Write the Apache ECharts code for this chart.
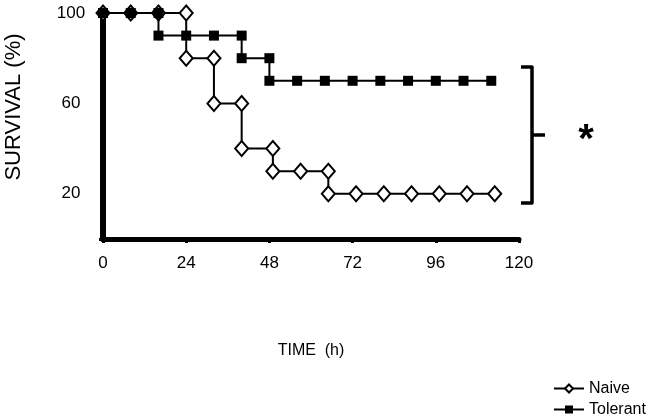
<!DOCTYPE html>
<html>
<head>
<meta charset="utf-8">
<script src="https://cdn.jsdelivr.net/npm/echarts@6/dist/echarts.min.js"></script>
<style>
  html, body { margin: 0; padding: 0; background: #fff; }
  #chart { width: 650px; height: 420px; }
</style>
</head>
<body>
<div id="chart"></div>
<script>
// survival curves, [time (h), survival (%)] - vertical steps are repeated x values
const naiveData = [
  [0, 100], [8, 100], [16, 100], [24, 100], [24, 80], [32, 80], [32, 60],
  [40, 60], [40, 40], [49, 40], [49, 30], [57, 30], [65, 30], [65, 20],
  [73, 20], [81, 20], [89, 20], [97, 20], [105, 20], [113, 20]
]
const tolerantData = [
  [0, 100], [8, 100], [16, 100], [16, 90], [24, 90], [32, 90], [40, 90],
  [40, 80], [48, 80], [48, 70], [56, 70], [64, 70], [72, 70], [80, 70],
  [88, 70], [96, 70], [104, 70], [112, 70]
]
const xTicks = [0, 24, 48, 72, 96, 120]
const yTicks = [20, 60, 100]

const font = 'Liberation Sans, Arial, sans-serif'
const chart = echarts.init(document.getElementById('chart'))

const option = {
  animation: false,
  backgroundColor: '#fff',
  grid: { left: 103, right: 131, top: 13, bottom: 181, outerBoundsMode: 'none', containLabel: false },
  legend: {
    orient: 'vertical',
    left: 553,
    top: 380,
    height: 60,
    padding: 0,
    itemWidth: 30,
    itemHeight: 10,
    itemGap: 4,
    textStyle: { fontFamily: font, fontSize: 16, color: '#000', lineHeight: 17 },
    data: ['Naive', 'Tolerant']
  },
  xAxis: {
    type: 'value',
    min: 0,
    max: 120,
    interval: 24,
    name: 'TIME  (h)',
    nameLocation: 'middle',
    nameGap: 104,
    nameTextStyle: { fontFamily: font, fontSize: 16, color: '#000' },
    axisLine: { onZero: false, lineStyle: { color: '#000', width: 5 } },
    axisTick: { show: true, length: 4, lineStyle: { color: '#000', width: 3 } },
    axisLabel: {
      customValues: xTicks,
      margin: 16,
      fontFamily: font, fontSize: 17, color: '#000'
    },
    splitLine: { show: false }
  },
  yAxis: {
    type: 'value',
    min: 0,
    max: 100,
    axisLine: { show: true, lineStyle: { color: '#000', width: 6 } },
    axisTick: { show: true, customValues: [0, 100], length: 4, lineStyle: { color: '#000', width: 3 } },
    axisLabel: {
      customValues: yTicks,
      align: 'center',
      margin: 32,
      fontFamily: font, fontSize: 17, color: '#000'
    },
    splitLine: { show: false }
  },
  series: [
    {
      name: 'Naive',
      type: 'line',
      data: naiveData,
      symbol: 'diamond',
      symbolSize: [13, 15],
      showAllSymbol: true,
      lineStyle: { color: '#000', width: 2 },
      itemStyle: { color: '#fff', borderColor: '#000', borderWidth: 2 },
      z: 2
    },
    {
      name: 'Tolerant',
      type: 'line',
      data: tolerantData,
      symbol: 'rect',
      symbolSize: 10,
      showAllSymbol: true,
      lineStyle: { color: '#000', width: 2 },
      itemStyle: { color: '#000' },
      z: 3
    }
  ],
  graphic: [
    {
      // y axis title, placed by hand to sit above the plot centre like the original
      type: 'text',
      x: 14,
      y: 107,
      rotation: Math.PI / 2,
      style: {
        text: 'SURVIVAL (%)', fontFamily: font, fontSize: 22,
        fill: '#000', align: 'center', verticalAlign: 'middle'
      }
    },
    {
      // significance bracket
      type: 'polyline',
      shape: { points: [[521, 67], [532, 67], [532, 203], [521, 203]] },
      style: { stroke: '#000', lineWidth: 3.5, fill: null, lineJoin: 'round' }
    },
    {
      type: 'line',
      shape: { x1: 532, y1: 135, x2: 545, y2: 135 },
      style: { stroke: '#000', lineWidth: 3.5 }
    },
    {
      type: 'text',
      x: 586,
      y: 141,
      style: {
        text: '*', fontFamily: font, fontSize: 40, fontWeight: 'bold',
        fill: '#000', align: 'center', verticalAlign: 'middle'
      }
    }
  ]
}

chart.setOption(option)
</script>
</body>
</html>
